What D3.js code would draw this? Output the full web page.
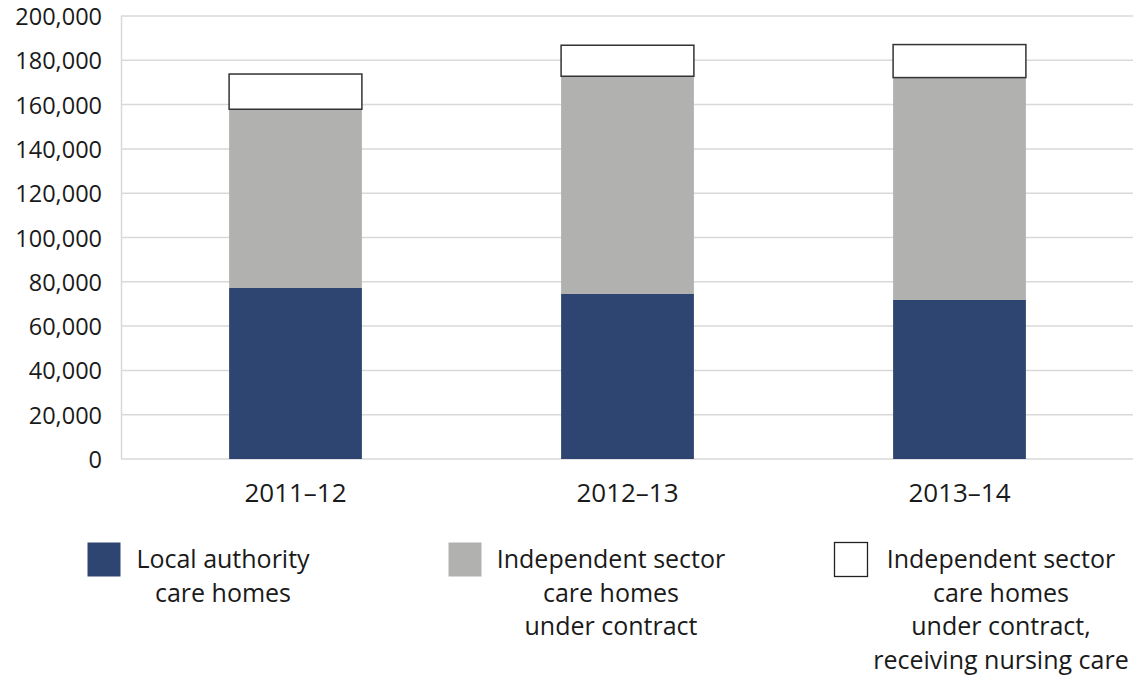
<!DOCTYPE html>
<html><head><meta charset="utf-8">
<script src="https://cdn.jsdelivr.net/npm/d3@7"></script>
<style>
html,body{margin:0;padding:0;background:#fff;}
svg text{font-family:"Open Sans","Noto Sans",sans-serif;fill:#1a1a1a;}
</style></head>
<body>
<svg id="chart" width="1133" height="680"></svg>
<script>
const categories = ["2011–12", "2012–13", "2013–14"];
const localAuthority = [77200, 74500, 71800];
const independent = [80700, 98300, 100400];
const nursing = [15900, 14000, 14900];
const yTicks = [0, 20000, 40000, 60000, 80000, 100000, 120000, 140000, 160000, 180000, 200000];
const seriesNames = [
  ["Local authority", "care homes"],
  ["Independent sector", "care homes", "under contract"],
  ["Independent sector", "care homes", "under contract,", "receiving nursing care"]
];
const colors = ["#2e4571", "#b1b1b0", "#ffffff"];

const svg = d3.select("#chart");
const y = d3.scaleLinear().domain([0, 200000]).range([459, 16]);
const x = d3.scaleBand().domain(categories).range([129.5, 1125.5]).paddingInner(0.6).paddingOuter(0.3);

// gridlines
svg.append("g").selectAll("line").data(yTicks).join("line")
  .attr("x1", 121).attr("x2", 1133)
  .attr("y1", d => y(d)).attr("y2", d => y(d))
  .attr("stroke", "#d9d9d9").attr("stroke-width", 1.5);
svg.append("line").attr("x1", 121.5).attr("x2", 121.5).attr("y1", y(200000)).attr("y2", y(0))
  .attr("stroke", "#d9d9d9").attr("stroke-width", 1.5);

// y labels
const yAxis = d3.axisLeft(y).tickValues(yTicks).tickSize(0).tickPadding(0)
  .tickFormat(d3.format(","));
const gy = svg.append("g").attr("transform", "translate(102,1)").call(yAxis);
gy.select(".domain").remove();
gy.selectAll("text").attr("font-size", 23.5).attr("fill", "#1a1a1a")
  .style("font-family", '"Open Sans","Noto Sans",sans-serif');

// stacks
const rows = categories.map((c, i) => ({cat: c, la: localAuthority[i], ind: independent[i], nur: nursing[i]}));
const stack = d3.stack().keys(["la", "ind", "nur"])(rows);
stack.forEach((layer, k) => {
  svg.append("g").selectAll("rect").data(layer).join("rect")
    .attr("x", d => x(d.data.cat))
    .attr("width", x.bandwidth())
    .attr("y", d => y(d[1]))
    .attr("height", d => y(d[0]) - y(d[1]))
    .attr("fill", colors[k])
    .attr("stroke", k === 2 ? "#333" : "none")
    .attr("stroke-width", k === 2 ? 1.5 : 0);
});

// x labels
const xAxis = d3.axisBottom(x).tickSize(0).tickPadding(0);
const gx = svg.append("g").attr("transform", "translate(0,484)").call(xAxis);
gx.select(".domain").remove();
gx.selectAll("text").attr("font-size", 26).attr("fill", "#1a1a1a").attr("dy", "0.71em")
  .style("font-family", '"Open Sans","Noto Sans",sans-serif');

// legend
const legendSwatchX = [87, 448, 834];
const legendCenterX = [223, 611, 1001];
const leg = svg.append("g");
seriesNames.forEach((lines, i) => {
  leg.append("rect").attr("x", legendSwatchX[i] + 0.5).attr("y", 542.5).attr("width", 33).attr("height", 34)
    .attr("fill", colors[i]).attr("stroke", i === 2 ? "#222" : "none").attr("stroke-width", 1.3);
  const t = leg.append("text").attr("text-anchor", "middle").attr("font-size", 25);
  lines.forEach((ln, j) => {
    t.append("tspan").attr("x", legendCenterX[i]).attr("y", 568 + j * 33.6).text(ln);
  });
});
</script>
</body></html>
